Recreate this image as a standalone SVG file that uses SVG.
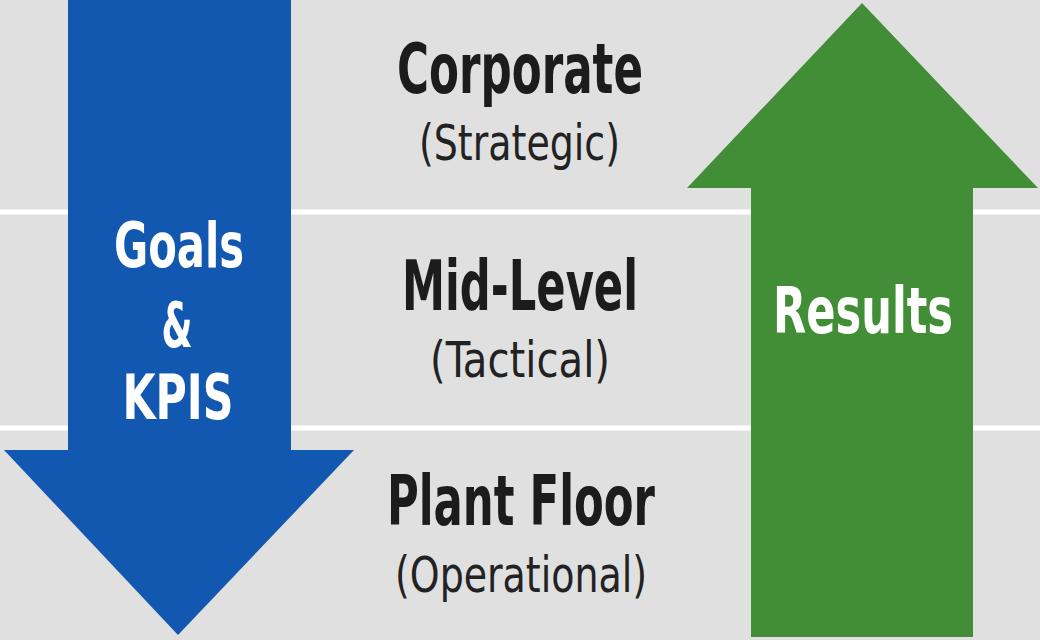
<svg xmlns="http://www.w3.org/2000/svg" width="1040" height="640" viewBox="0 0 1040 640">
<style>
.title{font-family:"Liberation Sans Narrow","DejaVu Sans Condensed","Liberation Sans",sans-serif;font-weight:bold;fill:#1c1c1c;text-anchor:middle}
.sub{font-family:"Liberation Sans Narrow","DejaVu Sans Condensed","Liberation Sans",sans-serif;font-weight:normal;fill:#222;text-anchor:middle}
.lbl{font-family:"Liberation Sans Narrow","DejaVu Sans Condensed","Liberation Sans",sans-serif;font-weight:bold;fill:#fff;text-anchor:middle}
.sep{stroke:#ffffff;stroke-width:5}
</style>
<rect x="0" y="0" width="1040" height="640" fill="#e0e0e0"/>
<g id="separators">
<line class="sep" x1="0" y1="212" x2="1040" y2="212"/>
<line class="sep" x1="0" y1="428" x2="1040" y2="428"/>
</g>
<g id="goals-arrow">
<polygon points="68,0 291,0 291,450 354,450 178,635 4,450 68,450" fill="#1358b0"/>
<text class="lbl" x="179" y="267" font-size="63" textLength="130" lengthAdjust="spacingAndGlyphs">Goals</text>
<text class="lbl" x="177" y="347" font-size="63" textLength="31" lengthAdjust="spacingAndGlyphs">&amp;</text>
<text class="lbl" x="178" y="419" font-size="63" textLength="111" lengthAdjust="spacingAndGlyphs">KPIS</text>
</g>
<g id="results-arrow">
<polygon points="862,3 1038,188 973,188 973,637 751,637 751,188 687,188" fill="#428e36"/>
<text class="lbl" x="863" y="333" font-size="64" textLength="180" lengthAdjust="spacingAndGlyphs">Results</text>
</g>
<g id="corporate">
<text class="title" x="520" y="93" font-size="70" textLength="246" lengthAdjust="spacingAndGlyphs">Corporate</text>
<text class="sub" x="519.5" y="160" font-size="49" textLength="201" lengthAdjust="spacingAndGlyphs">(Strategic)</text>
</g>
<g id="mid-level">
<text class="title" x="520" y="310" font-size="70" textLength="236" lengthAdjust="spacingAndGlyphs">Mid-Level</text>
<text class="sub" x="520" y="377" font-size="49" textLength="180" lengthAdjust="spacingAndGlyphs">(Tactical)</text>
</g>
<g id="plant-floor">
<text class="title" x="521" y="525" font-size="70" textLength="268" lengthAdjust="spacingAndGlyphs">Plant Floor</text>
<text class="sub" x="521" y="592" font-size="49" textLength="252" lengthAdjust="spacingAndGlyphs">(Operational)</text>
</g>
</svg>
